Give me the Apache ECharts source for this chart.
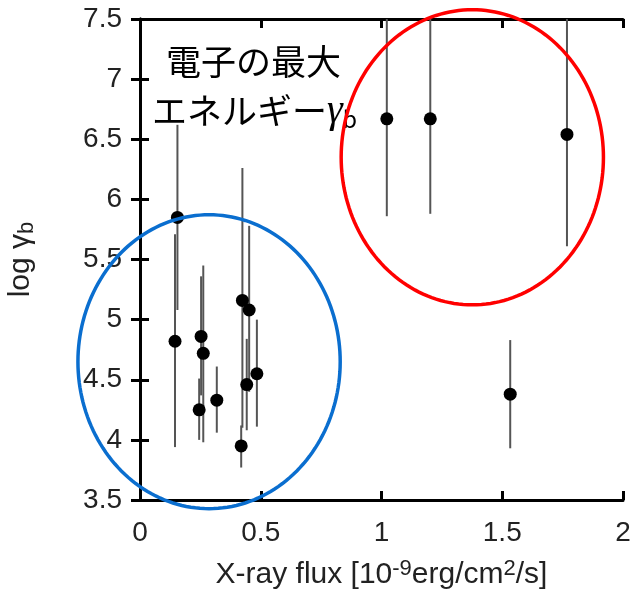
<!DOCTYPE html>
<html>
<head>
<meta charset="utf-8">
<script src="https://cdn.jsdelivr.net/npm/echarts@6/dist/echarts.min.js"></script>
<style>
  html, body { margin: 0; padding: 0; background: #fff; }
  #chart { width: 631px; height: 593px; }
</style>
</head>
<body>
<div id="chart"></div>
<script>
// X-ray flux [1e-9 erg/cm^2/s] and log of the break Lorentz factor
var flux      = [0.155, 0.145, 0.253, 0.262, 0.245, 0.318, 0.424, 0.452, 0.484, 0.442, 0.419, 1.022, 1.202, 1.768, 1.533];
var logGamma  = [5.85,  4.82,  4.86,  4.72,  4.25,  4.33,  5.16,  5.08,  4.55,  4.46,  3.95,  6.67,  6.67,  6.54,  4.38];
var errLow    = [5.08,  3.94,  4.37,  3.98,  4.00,  4.06,  4.10,  4.40,  4.11,  4.08,  3.77,  5.86,  5.88,  5.61,  3.93];
var errHigh   = [6.62,  5.71,  5.36,  5.45,  4.51,  4.61,  6.26,  5.78,  5.00,  4.84,  4.12,  7.80,  7.80,  7.80,  4.83];

// Group outlines: centre (flux, logGamma), half-width, half-height, colour
var groupCentreX = [0.286, 1.376];
var groupCentreY = [4.65, 6.35];
var groupRadiusX = [0.543, 0.543];
var groupRadiusY = [1.222, 1.227];
var groupColors  = ['#0a6ecf', '#ff0000'];

var FONT = '"Liberation Sans", Arial, sans-serif';
var JP = '"Noto Sans CJK JP", sans-serif';

var chart = echarts.init(document.getElementById('chart'));

var axisCommon = {
  axisLine: { show: true, lineStyle: { color: '#000', width: 3 } },
  axisTick: { show: true, inside: true, length: 9, lineStyle: { color: '#000', width: 3 } },
  splitLine: { show: false }
};

var pointData = flux.map(function (x, i) { return [x, logGamma[i]]; });
var barData = flux.map(function (x, i) { return [x, errLow[i], errHigh[i]]; });
var groupData = groupCentreX.map(function (cx, i) {
  return [cx, groupCentreY[i], groupRadiusX[i], groupRadiusY[i], i];
});

chart.setOption({
  animation: false,
  backgroundColor: '#fff',
  grid: { left: 140, right: 8, top: 19, bottom: 93, containLabel: false, outerBoundsMode: 'none' },
  xAxis: [
    Object.assign({
      type: 'value', position: 'bottom', min: 0, max: 2, interval: 0.5,
      name: '{t|X-ray flux [10}{s|-9}{t|erg/cm}{s|2}{t|/s]}',
      nameLocation: 'middle', nameGap: 58,
      nameTextStyle: {
        rich: {
          t: { fontFamily: FONT, fontSize: 30, lineHeight: 34, color: '#222' },
          s: { fontFamily: FONT, fontSize: 22, lineHeight: 22, color: '#222', verticalAlign: 'top', padding: [0, 0, 36, 0] }
        }
      },
      axisLabel: {
        fontFamily: FONT, fontSize: 28, color: '#222', margin: 19,
        formatter: function (v) { return String(v); }
      }
    }, axisCommon),
    Object.assign({
      type: 'value', position: 'top', min: 0, max: 2, interval: 0.5,
      axisLabel: { show: false }
    }, axisCommon)
  ],
  yAxis: [
    Object.assign({
      type: 'value', position: 'left', min: 3.5, max: 7.5, interval: 0.5,
      name: '{t|log γ}{s|b}',
      nameLocation: 'middle', nameGap: 102, nameRotate: 90,
      nameTextStyle: {
        rich: {
          t: { fontFamily: FONT, fontSize: 30, lineHeight: 34, color: '#222' },
          s: { fontFamily: FONT, fontSize: 22, lineHeight: 22, color: '#222', verticalAlign: 'bottom', padding: [16, 0, 0, 0] }
        }
      },
      axisLabel: {
        fontFamily: FONT, fontSize: 28, color: '#222', margin: 18,
        formatter: function (v) { return String(v); }
      }
    }, axisCommon),
    Object.assign({
      type: 'value', position: 'right', min: 3.5, max: 7.5, interval: 0.5,
      axisLabel: { show: false }
    }, axisCommon)
  ],
  graphic: [
    {
      type: 'text', left: 166, top: 44,
      style: {
        text: '電子の最大',
        font: '35px ' + JP, fill: '#000'
      }
    },
    {
      type: 'text', left: 152, top: 76,
      style: {
        text: '{j|エネルギー}{g|γ}{b|b}',
        rich: {
          j: { fontFamily: JP, fontSize: 35, lineHeight: 40, color: '#000' },
          g: { fontFamily: '"Liberation Serif", serif', fontStyle: 'italic', fontSize: 40, lineHeight: 40, color: '#000' },
          b: { fontFamily: JP, fontSize: 23, lineHeight: 23, color: '#000', verticalAlign: 'bottom', padding: [32, 0, 0, 0] }
        }
      }
    }
  ],
  series: [
    {
      type: 'custom',
      name: 'errorbars',
      clip: true,
      data: barData,
      renderItem: function (params, api) {
        var lo = api.coord([api.value(0), api.value(1)]);
        var hi = api.coord([api.value(0), api.value(2)]);
        return {
          type: 'line',
          shape: { x1: lo[0], y1: lo[1], x2: hi[0], y2: hi[1] },
          style: { stroke: '#555', lineWidth: 2 }
        };
      },
      z: 2
    },
    {
      type: 'scatter',
      data: pointData,
      symbol: 'circle',
      symbolSize: 13,
      itemStyle: { color: '#000', opacity: 1 },
      z: 3
    },
    {
      type: 'custom',
      name: 'groups',
      clip: false,
      data: groupData,
      renderItem: function (params, api) {
        var cx = api.value(0), cy = api.value(1), rx = api.value(2), ry = api.value(3);
        var idx = api.value(4);
        var pts = [];
        for (var k = 0; k < 180; k++) {
          var t = (k / 180) * Math.PI * 2;
          pts.push(api.coord([cx + rx * Math.cos(t), cy + ry * Math.sin(t)]));
        }
        return {
          type: 'polygon',
          shape: { points: pts },
          style: { fill: 'none', stroke: groupColors[idx], lineWidth: 3.5 }
        };
      },
      z: 4
    }
  ]
});
</script>
</body>
</html>
